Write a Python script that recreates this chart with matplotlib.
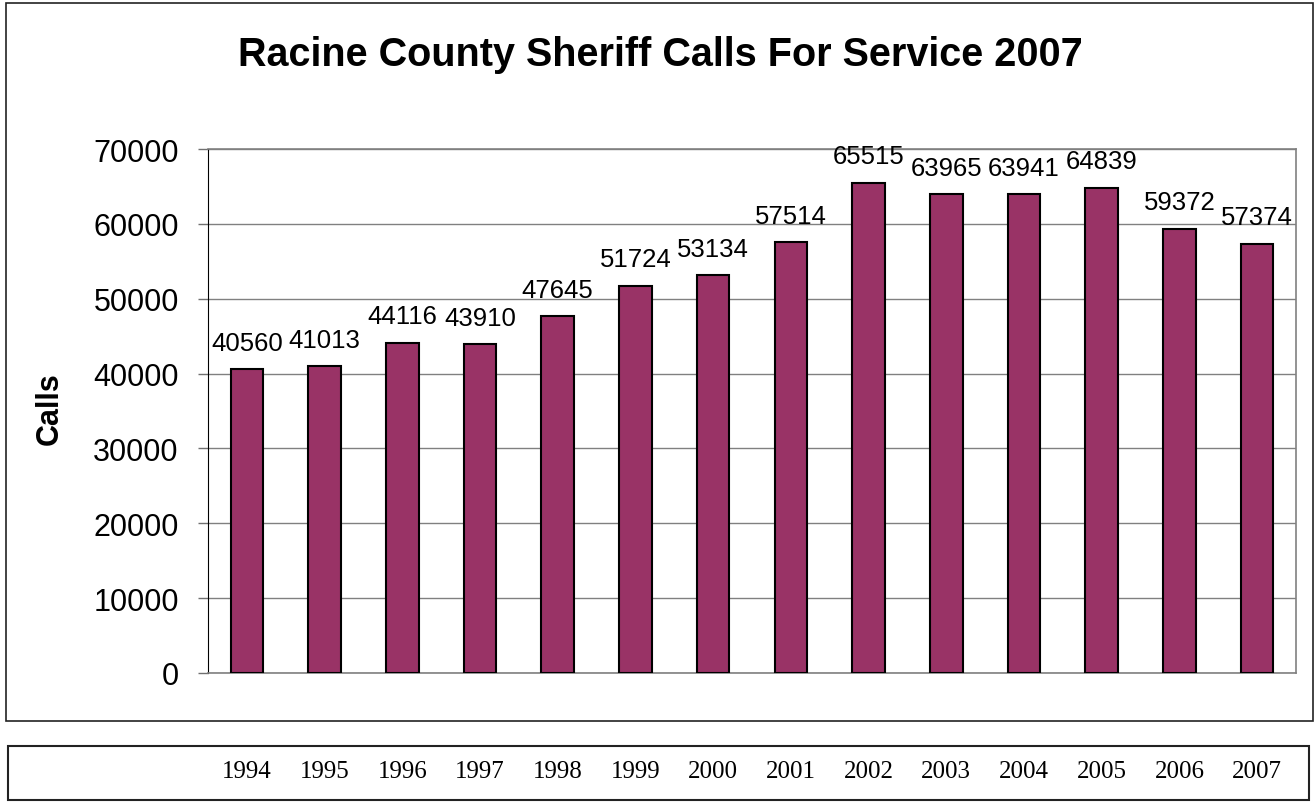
import matplotlib.pyplot as plt
from matplotlib.patches import Rectangle

years = ['1994', '1995', '1996', '1997', '1998', '1999', '2000',
         '2001', '2002', '2003', '2004', '2005', '2006', '2007']
calls = [40560, 41013, 44116, 43910, 47645, 51724, 53134,
         57514, 65515, 63965, 63941, 64839, 59372, 57374]
y_ticks = [0, 10000, 20000, 30000, 40000, 50000, 60000, 70000]

W, H = 1315, 803
fig = plt.figure(figsize=(W / 100, H / 100), dpi=100)
plt.rcParams['font.family'] = ['Liberation Sans', 'DejaVu Sans']

# outer chart frame and the table box below it
fig.patches.append(Rectangle((6 / W, 1 - 722 / H), 1307 / W, 718 / H,
                             transform=fig.transFigure, fill=False,
                             edgecolor='#222222', lw=1.2))
fig.patches.append(Rectangle((8 / W, 1 - 801 / H), 1301 / W, 54 / H,
                             transform=fig.transFigure, fill=False,
                             edgecolor='#222222', lw=1.5))

ax = fig.add_axes([208 / W, 1 - 674 / H, 1088 / W, 524 / H])
x = list(range(len(years)))
ax.bar(x, calls, width=0.42, color='#993366', edgecolor='black', lw=1.5, zorder=3)

for xi, v in zip(x, calls):
    ax.annotate(str(v), (xi, v), xytext=(0, 14), textcoords='offset points',
                ha='center', va='baseline', fontsize=18.5)

ax.set_xlim(-0.5, len(years) - 0.5)
ax.set_ylim(0, 70000)
ax.set_yticks(y_ticks)
ax.set_yticklabels([str(t) for t in y_ticks], fontsize=22)
ax.tick_params(axis='y', length=7, width=1, color='#707070', pad=14)
ax.set_xticks([])
ax.yaxis.grid(True, color='#808080', lw=1, zorder=0)

ax.spines['left'].set_color('black')
for s in ['right', 'top', 'bottom']:
    ax.spines[s].set_color('#808080')
    ax.spines[s].set_linewidth(1.2)

fig.text(660 / W, 1 - 55 / H, 'Racine County Sheriff Calls For Service 2007',
         ha='center', va='center', fontsize=28.5, fontweight='bold')
fig.text(50 / W, 1 - 409 / H, 'Calls', rotation=90, ha='center', va='center',
         fontsize=22, fontweight='bold')

# year labels in the lower box, lined up with the bars
tab = fig.add_axes([208 / W, 1 - 801 / H, 1088 / W, 54 / H])
tab.set_xlim(ax.get_xlim())
tab.set_ylim(0, 1)
tab.axis('off')
for xi, yr in zip(x, years):
    tab.text(xi, 0.54, yr, ha='center', va='center', fontsize=18,
             family=['Liberation Serif', 'DejaVu Serif'])

fig.savefig('out.png', dpi=100)
